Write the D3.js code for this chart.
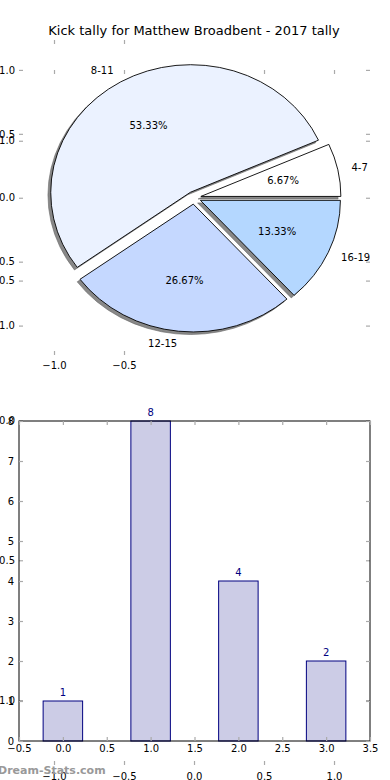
<!DOCTYPE html>
<html>
<head>
<meta charset="utf-8">
<script src="https://cdn.jsdelivr.net/npm/d3@7"></script>
<style>
  html, body { margin: 0; padding: 0; background: #fff; }
  svg { display: block; }
  text { font-family: "DejaVu Sans", sans-serif; }
</style>
</head>
<body>
<svg id="chart" width="390" height="780"></svg>
<script>
// ---------- data ----------
const titleText = "Kick tally for Matthew Broadbent - 2017 tally";
const pieLabels = ["4-7", "8-11", "12-15", "16-19"];
const pieValues = [1, 8, 4, 2];
const pieColors = ["#ffffff", "#ebf2ff", "#c5d8ff", "#b4d7ff"];
const pieExplode = 0.05;
const pieTicks = [-1, -0.5, 0, 0.5, 1];
const pieHiddenXTicks = [-1, -0.5];
const barCategories = [0, 1, 2, 3];
const barValues = [1, 8, 4, 2];
const barXTicks = [-0.5, 0, 0.5, 1, 1.5, 2, 2.5, 3, 3.5];
const barYTicks = [0, 1, 2, 3, 4, 5, 6, 7, 8];
const overlayYTicks = [-1, -0.5, 0, 0.5, 1];
const overlayXTicks = [-1, -0.5, 0, 0.5, 1];
const watermark = "Dream-Stats.com";

const svg = d3.select("#chart");
const fmt = d => d3.format(".1f")(d).replace("-", "\u2212");
const tickColor = "#aaa";

// ---------- layout ----------
const L = 19, R = 370;

// pie axes (A)
const xA = d3.scaleLinear().domain([-1.25, 1.257]).range([L, R]);
const yA = d3.scaleLinear().domain([-1.23, 1.234]).range([355, 40]);
// overlay axes (B) inverted y
const yB = d3.scaleLinear().domain([-1.253, 1.232]).range([70, 765]);
// bar axes (C)
const xC = d3.scaleLinear().domain([-0.5, 3.5]).range([L, R]);
const yC = d3.scaleLinear().domain([0, 8]).range([741, 421]);

function styleAxis(g) {
  g.select(".domain").remove();
  g.selectAll(".tick line").attr("stroke", tickColor).attr("stroke-width", 1.2);
  g.selectAll(".tick text").attr("fill", "#000").style("font-size", "10px")
    .style("font-family", "DejaVu Sans, sans-serif");
}

// ---------- background axes: B (overlay) ----------
svg.append("g").attr("transform", `translate(0,${yB.range()[0]})`)
  .call(d3.axisTop(xA).tickValues(overlayXTicks).tickSize(-4).tickFormat(""))
  .call(styleAxis);
svg.append("g").attr("transform", `translate(0,${yB.range()[1]})`)
  .call(d3.axisBottom(xA).tickValues(overlayXTicks).tickSize(-4).tickPadding(8).tickFormat(fmt))
  .call(styleAxis);
svg.append("g").attr("transform", `translate(${L},0)`)
  .call(d3.axisLeft(yB).tickValues(overlayYTicks).tickSize(-4).tickPadding(4).tickFormat(fmt))
  .call(styleAxis);
svg.append("g").attr("transform", `translate(${R},0)`)
  .call(d3.axisRight(yB).tickValues(overlayYTicks).tickSize(-4).tickFormat(""))
  .call(styleAxis);

// ---------- pie axes A ticks ----------
svg.append("g").attr("transform", `translate(0,${yA.range()[1]})`)
  .call(d3.axisTop(xA).tickValues(pieHiddenXTicks).tickSize(-4).tickFormat(""))
  .call(styleAxis);
svg.append("g").attr("transform", `translate(0,${yA.range()[0]})`)
  .call(d3.axisBottom(xA).tickValues(pieHiddenXTicks).tickSize(-4).tickPadding(7).tickFormat(fmt))
  .call(styleAxis);
svg.append("g").attr("transform", `translate(${L},0)`)
  .call(d3.axisLeft(yA).tickValues(pieTicks).tickSize(-4).tickPadding(4).tickFormat(fmt))
  .call(styleAxis);
svg.append("g").attr("transform", `translate(${R},0)`)
  .call(d3.axisRight(yA).tickValues(pieTicks).tickSize(-4).tickFormat(""))
  .call(styleAxis);

// ---------- title ----------
svg.append("text").attr("x", 194).attr("y", 35).attr("text-anchor", "middle")
  .style("font-size", "13px").attr("fill", "#000").text(titleText);

// ---------- pie ----------
const sx = xA(1) - xA(0), sy = yA(0) - yA(1);
const pieGen = d3.pie().sort(null).value(d => d)
  .startAngle(Math.PI / 2).endAngle(Math.PI / 2 - 2 * Math.PI);
const arcs = pieGen(pieValues);
const arcGen = d3.arc().innerRadius(0).outerRadius(1);
const total = d3.sum(pieValues);
const off = a => {
  const m = (a.startAngle + a.endAngle) / 2;
  return { m, dx: pieExplode * Math.sin(m), dy: pieExplode * Math.cos(m) };
};

const pieG = svg.append("g");
// shadows
arcs.forEach(a => {
  const o = off(a);
  pieG.append("path")
    .attr("d", arcGen(a))
    .attr("transform", `translate(${xA(o.dx - 0.02)},${yA(o.dy - 0.02)}) scale(${sx},${sy})`)
    .attr("fill", "#888")
    .attr("stroke", "#666").attr("stroke-width", 0.6)
    .attr("vector-effect", "non-scaling-stroke");
});
// wedges
arcs.forEach((a, i) => {
  const o = off(a);
  pieG.append("path")
    .attr("d", arcGen(a))
    .attr("transform", `translate(${xA(o.dx)},${yA(o.dy)}) scale(${sx},${sy})`)
    .attr("fill", pieColors[i])
    .attr("stroke", "#000").attr("stroke-width", 0.9)
    .attr("vector-effect", "non-scaling-stroke");
});
// labels
arcs.forEach((a, i) => {
  const o = off(a);
  const lx = o.dx + 1.1 * Math.sin(o.m), ly = o.dy + 1.1 * Math.cos(o.m);
  svg.append("text")
    .attr("x", xA(lx)).attr("y", yA(ly))
    .attr("dy", "0.35em")
    .attr("text-anchor", lx < 0 ? "end" : "start")
    .style("font-size", "10px").attr("fill", "#000")
    .text(pieLabels[i]);
  const px = o.dx + 0.6 * Math.sin(o.m), py = o.dy + 0.6 * Math.cos(o.m);
  svg.append("text")
    .attr("x", xA(px)).attr("y", yA(py))
    .attr("dy", "0.35em")
    .attr("text-anchor", "middle")
    .style("font-size", "10px").attr("fill", "#000")
    .text(d3.format(".2f")(pieValues[i] / total * 100) + "%");
});

// ---------- bar chart ----------
const barW = 0.45;
svg.append("line")
  .attr("x1", xC(1)).attr("x2", xC(1)).attr("y1", yC(0)).attr("y2", yC(8))
  .attr("stroke", "#999").attr("stroke-width", 1.5).attr("stroke-dasharray", "1,1.5");

svg.selectAll("rect.bar").data(barCategories).enter().append("rect")
  .attr("class", "bar")
  .attr("x", d => xC(d - barW / 2))
  .attr("width", d => xC(d + barW / 2) - xC(d - barW / 2))
  .attr("y", (d, i) => yC(barValues[i]))
  .attr("height", (d, i) => yC(0) - yC(barValues[i]))
  .attr("fill", "#ccccE6").attr("stroke", "#000080").attr("stroke-width", 1);

svg.selectAll("text.val").data(barCategories).enter().append("text")
  .attr("class", "val")
  .attr("x", d => xC(d)).attr("y", (d, i) => yC(barValues[i]) - 5)
  .attr("text-anchor", "middle").style("font-size", "10px").attr("fill", "#000080")
  .text((d, i) => barValues[i]);

// frame
svg.append("rect").attr("x", L).attr("y", yC(8)).attr("width", R - L).attr("height", yC(0) - yC(8))
  .attr("fill", "none").attr("stroke", "#000").attr("stroke-width", 1);

svg.append("g").attr("transform", `translate(0,${yC(0)})`)
  .call(d3.axisBottom(xC).tickValues(barXTicks).tickSize(-4).tickPadding(4).tickFormat(fmt))
  .call(styleAxis);
svg.append("g").attr("transform", `translate(0,${yC(8)})`)
  .call(d3.axisTop(xC).tickValues(barXTicks).tickSize(-4).tickFormat(""))
  .call(styleAxis);
svg.append("g").attr("transform", `translate(${L},0)`)
  .call(d3.axisLeft(yC).tickValues(barYTicks).tickSize(-4).tickPadding(5).tickFormat(d3.format("d")))
  .call(styleAxis);
svg.append("g").attr("transform", `translate(${R},0)`)
  .call(d3.axisRight(yC).tickValues(barYTicks).tickSize(-4).tickFormat(""))
  .call(styleAxis);

// ---------- watermark ----------
svg.append("text").attr("x", -2).attr("y", 774)
  .style("font-size", "11px").style("font-weight", "bold").attr("fill", "#999")
  .text(watermark);
</script>
</body>
</html>
